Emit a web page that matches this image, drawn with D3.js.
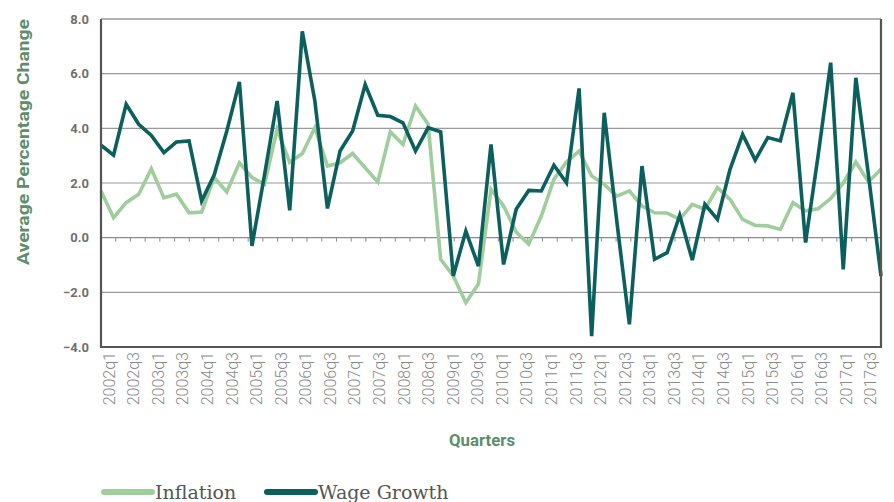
<!DOCTYPE html>
<html>
<head>
<meta charset="utf-8">
<script src="https://cdn.jsdelivr.net/npm/d3@7"></script>
<style>
  html, body { margin: 0; padding: 0; background: #fff; }
  svg { display: block; }
</style>
</head>
<body>
<svg id="chart" width="894" height="502"></svg>
<script>
// Quarterly observations, 2002q1 – 2017q3
const quarters = [
  "2002q1","2002q2","2002q3","2002q4","2003q1","2003q2","2003q3","2003q4",
  "2004q1","2004q2","2004q3","2004q4","2005q1","2005q2","2005q3","2005q4",
  "2006q1","2006q2","2006q3","2006q4","2007q1","2007q2","2007q3","2007q4",
  "2008q1","2008q2","2008q3","2008q4","2009q1","2009q2","2009q3","2009q4",
  "2010q1","2010q2","2010q3","2010q4","2011q1","2011q2","2011q3","2011q4",
  "2012q1","2012q2","2012q3","2012q4","2013q1","2013q2","2013q3","2013q4",
  "2014q1","2014q2","2014q3","2014q4","2015q1","2015q2","2015q3","2015q4",
  "2016q1","2016q2","2016q3","2016q4","2017q1","2017q2","2017q3"
];

const inflation = [
  1.71, 0.73, 1.28, 1.59, 2.52, 1.46, 1.59, 0.91,
  0.94, 2.2, 1.67, 2.74, 2.2, 1.95, 3.96, 2.75,
  3.08, 4.02, 2.62, 2.74, 3.08, 2.56, 2.04, 3.87,
  3.41, 4.82, 4.15, -0.79, -1.4, -2.38, -1.7, 1.77,
  1.16, 0.21, -0.24, 0.79, 2.13, 2.77, 3.17, 2.26,
  1.95, 1.52, 1.71, 1.16, 0.91, 0.9, 0.67, 1.22,
  1.04, 1.83, 1.4, 0.67, 0.45, 0.43, 0.3, 1.28,
  0.98, 1.06, 1.43, 2.0, 2.77, 2.04, 2.5
];

const wageGrowth = [
  3.38, 3.02, 4.88, 4.15, 3.74, 3.11, 3.5, 3.54,
  1.34, 2.3, 3.9, 5.7, -0.3, 2.3, 5.0, 1.0,
  7.55, 5.0, 1.07, 3.17, 3.9, 5.6, 4.48, 4.43,
  4.2, 3.17, 4.02, 3.87, -1.4, 0.24, -1.04, 3.41,
  -0.98, 1.04, 1.73, 1.71, 2.65, 2.01, 5.46, -3.6,
  4.57, 0.6, -3.17, 2.62, -0.79, -0.55, 0.82, -0.82,
  1.22, 0.67, 2.5, 3.78, 2.84, 3.66, 3.54, 5.3,
  -0.18, 3.0, 6.4, -1.16, 5.85, 2.3, -1.4
];

const yTicks = [-4, -2, 0, 2, 4, 6, 8];
const xTickLabels = quarters.filter((q, i) => i % 2 === 0);

const seriesNames = ["Inflation", "Wage Growth"];
const seriesColors = ["#9fcd9c", "#0b5f5c"];

const svg = d3.select("#chart");
const plot = { left: 101, top: 19, right: 881, bottom: 347 };

const x = d3.scalePoint().domain(quarters).range([plot.left, plot.right]);
const xBand = d3.scaleBand().domain(quarters).range([plot.left + 2, plot.right - 4]);
const y = d3.scaleLinear().domain([-4, 8]).range([plot.bottom, plot.top]);

// horizontal gridlines
svg.append("g")
  .selectAll("line")
  .data(yTicks.filter(v => v !== -4 && v !== 0))
  .join("line")
  .attr("x1", plot.left).attr("x2", plot.right)
  .attr("y1", d => y(d)).attr("y2", d => y(d))
  .attr("stroke", "#9a9a9a").attr("stroke-width", 1.2);

// zero line with small tick marks
const zeroY = y(0);
svg.append("line")
  .attr("x1", plot.left).attr("x2", plot.right)
  .attr("y1", zeroY).attr("y2", zeroY)
  .attr("stroke", "#8c8c8c").attr("stroke-width", 1.2);
const tickPos = d3.scaleLinear().domain([0, 53]).range([plot.left, plot.right]);
svg.append("g")
  .selectAll("line")
  .data(d3.range(1, 53))
  .join("line")
  .attr("x1", d => tickPos(d)).attr("x2", d => tickPos(d))
  .attr("y1", zeroY).attr("y2", zeroY + 4)
  .attr("stroke", "#8c8c8c").attr("stroke-width", 1);

// y axis labels
const yAxis = d3.axisLeft(y).tickValues(yTicks).tickFormat(d3.format(".1f")).tickSize(0).tickPadding(12);
const gy = svg.append("g").attr("transform", `translate(${plot.left},0)`).call(yAxis);
gy.select(".domain").remove();
gy.selectAll("text")
  .attr("font-family", "Roboto, sans-serif")
  .attr("font-weight", 700)
  .attr("font-size", 13)
  .attr("fill", "#6f6f6f");

// x axis labels (every second quarter)
const xAxis = d3.axisBottom(xBand).tickValues(xTickLabels).tickSize(0).tickPadding(0);
const gx = svg.append("g").attr("transform", `translate(0,${plot.bottom})`).call(xAxis);
gx.select(".domain").remove();
gx.selectAll("text")
  .attr("font-family", "Roboto, sans-serif")
  .attr("font-weight", 300)
  .attr("font-size", 16)
  .attr("fill", "#8a8a8a")
  .attr("text-anchor", "end")
  .attr("dy", "0.35em")
  .attr("transform", "translate(0,5) rotate(-90)")
  .attr("x", 0).attr("y", 0);

// series lines
const line = d3.line().x((d, i) => x(quarters[i])).y(d => y(d));
[inflation, wageGrowth].forEach((vals, k) => {
  svg.append("path")
    .datum(vals)
    .attr("d", line)
    .attr("fill", "none")
    .attr("stroke", seriesColors[k])
    .attr("stroke-width", 3.6)
    .attr("stroke-linejoin", "miter")
    .attr("stroke-miterlimit", 4);
});

// plot frame
svg.append("line")
  .attr("x1", plot.left).attr("x2", plot.right)
  .attr("y1", plot.top).attr("y2", plot.top)
  .attr("stroke", "#9a9a9a").attr("stroke-width", 1.2);
svg.append("path")
  .attr("d", `M${plot.left},${plot.top}V${plot.bottom}H${plot.right}V${plot.top}`)
  .attr("fill", "none")
  .attr("stroke", "#555")
  .attr("stroke-width", 2.2);

// axis titles
svg.append("text")
  .attr("transform", `translate(29,${(plot.top + 265) / 2}) rotate(-90)`)
  .attr("text-anchor", "middle")
  .attr("font-family", "Roboto, sans-serif")
  .attr("font-weight", 700)
  .attr("font-size", 16)
  .attr("textLength", 246)
  .attr("lengthAdjust", "spacingAndGlyphs")
  .attr("fill", "#5e8d6c")
  .text("Average Percentage Change");

svg.append("text")
  .attr("x", 482).attr("y", 446)
  .attr("text-anchor", "middle")
  .attr("font-family", "Roboto, sans-serif")
  .attr("font-weight", 700)
  .attr("font-size", 16)
  .attr("textLength", 66)
  .attr("lengthAdjust", "spacingAndGlyphs")
  .attr("fill", "#5e8d6c")
  .text("Quarters");

// legend
const legendX = [104, 267];
const legend = svg.append("g");
seriesNames.forEach((name, k) => {
  legend.append("line")
    .attr("x1", legendX[k]).attr("x2", legendX[k] + 48)
    .attr("y1", 492).attr("y2", 492)
    .attr("stroke", seriesColors[k])
    .attr("stroke-width", 6)
    .attr("stroke-linecap", "round");
  legend.append("text")
    .attr("x", legendX[k] + 51).attr("y", 499)
    .attr("font-family", "'DejaVu Serif', serif")
    .attr("font-size", 19)
    .attr("fill", "#555")
    .text(name);
});
</script>
</body>
</html>
